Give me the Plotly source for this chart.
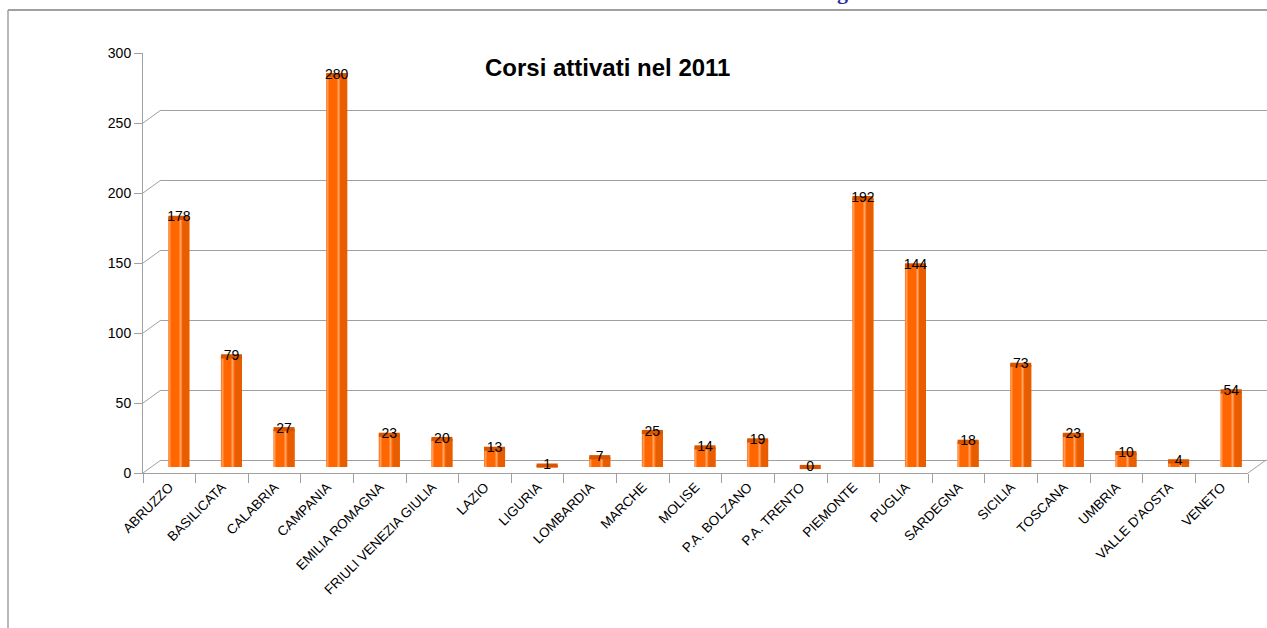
import plotly.graph_objects as go

regioni = ["ABRUZZO", "BASILICATA", "CALABRIA", "CAMPANIA", "EMILIA ROMAGNA",
           "FRIULI VENEZIA GIULIA", "LAZIO", "LIGURIA", "LOMBARDIA", "MARCHE",
           "MOLISE", "P.A. BOLZANO", "P.A. TRENTO", "PIEMONTE", "PUGLIA",
           "SARDEGNA", "SICILIA", "TOSCANA", "UMBRIA", "VALLE D'AOSTA", "VENETO"]
corsi = [178, 79, 27, 280, 23, 20, 13, 1, 7, 25, 14, 19, 0, 192, 144, 18, 73, 23, 10, 4, 54]
y_ticks = [0, 50, 100, 150, 200, 250, 300]

W, H = 1267, 628
GRID = "#a0a0a0"
FONT = "Liberation Sans, Arial, sans-serif"
XRANGE = [-0.5, len(regioni) - 0.5]


def px(x):
    return x / W


def py(y):
    return 1 - y / H


fig = go.Figure()

# front axes (labels and ticks) and back wall (gridlines): invisible carrier traces
for xa, ya in (("x", "y"), ("x2", "y2")):
    fig.add_trace(go.Scatter(x=regioni, y=corsi, xaxis=xa, yaxis=ya, mode="markers",
                             marker=dict(opacity=0), hoverinfo="skip", showlegend=False))

# cylinders: base, shaded right side, highlights, top cap
bar_layers = [
    dict(offset=-0.20, width=0.40, color="#ff6600"),
    dict(offset=0.07, width=0.13, color="#e85d00"),
    dict(offset=-0.185, width=0.02, color="#ff9a55"),
    dict(offset=0.02, width=0.02, color="#ffa466"),
]
for lay in bar_layers:
    fig.add_trace(go.Bar(x=regioni, y=corsi, xaxis="x3", yaxis="y3",
                         offset=lay["offset"], width=lay["width"],
                         marker=dict(color=lay["color"], line=dict(width=0)),
                         showlegend=False, hoverinfo="skip"))
fig.add_trace(go.Bar(x=regioni, y=[3] * len(corsi), base=[v - 1.5 for v in corsi],
                     xaxis="x3", yaxis="y3", offset=-0.20, width=0.40,
                     marker=dict(color="#d95500", line=dict(width=0)),
                     showlegend=False, hoverinfo="skip"))

# value labels
fig.add_trace(go.Scatter(x=regioni, y=corsi, xaxis="x3", yaxis="y3", mode="text",
                         text=[str(v) for v in corsi], textposition="middle center",
                         textfont=dict(size=14, color="black", family=FONT),
                         cliponaxis=False, showlegend=False, hoverinfo="skip"))

shapes = []
# diagonal connectors front axis -> back wall
for t in y_ticks:
    shapes.append(dict(type="line", xref="paper", xsizemode="pixel", xanchor=px(143),
                       x0=0, x1=18, yref="y", ysizemode="pixel", yanchor=t, y0=0, y1=13,
                       line=dict(color=GRID, width=1)))
# floor right edge
shapes.append(dict(type="line", xref="paper", xsizemode="pixel", xanchor=px(1248),
                   x0=0, x1=18, yref="y", ysizemode="pixel", yanchor=0, y0=0, y1=13,
                   line=dict(color=GRID, width=1)))
# frame of the slide
shapes.append(dict(type="line", xref="paper", yref="paper", x0=px(8), x1=1,
                   y0=py(10), y1=py(10), line=dict(color="#a0a0a0", width=2)))
shapes.append(dict(type="line", xref="paper", yref="paper", x0=px(8), x1=px(8),
                   y0=py(10), y1=0, line=dict(color="#a0a0a0", width=1.5)))

fig.update_layout(
    width=W, height=H,
    margin=dict(l=0, r=0, t=0, b=0, autoexpand=False),
    paper_bgcolor="white", plot_bgcolor="rgba(0,0,0,0)",
    barmode="overlay",
    font=dict(family=FONT, color="black"),
    shapes=shapes,
    xaxis=dict(domain=[px(143), px(1248)], anchor="y", type="category",
               categoryarray=regioni, categoryorder="array", range=XRANGE,
               tickmode="array", tickvals=regioni, automargin=False,
               showline=True, linecolor=GRID, linewidth=1,
               ticks="outside", tickson="boundaries", ticklen=9, tickcolor=GRID,
               tickangle=-45, tickfont=dict(size=13.5), showgrid=False, fixedrange=True),
    yaxis=dict(domain=[py(473), py(53)], anchor="x", range=[0, 300], tickvals=y_ticks,
               automargin=False,
               showline=True, linecolor=GRID, linewidth=1, ticks="outside", ticklen=8,
               tickcolor=GRID, tickfont=dict(size=14), showgrid=False, zeroline=False),
    xaxis2=dict(domain=[px(161), 1], anchor="y2", type="category", range=XRANGE,
                categoryarray=regioni, visible=False),
    yaxis2=dict(domain=[py(460), py(40)], anchor="x2", range=[0, 300], tickvals=y_ticks,
                showticklabels=False, ticks="", showgrid=True, gridcolor=GRID, gridwidth=1,
                zeroline=True, zerolinecolor=GRID, zerolinewidth=1, showline=False),
    xaxis3=dict(domain=[px(152.5), px(1257.5)], anchor="y3", type="category", range=XRANGE,
                categoryarray=regioni, visible=False),
    yaxis3=dict(domain=[py(474), py(47)], anchor="x3", range=[-5, 300], visible=False),
    annotations=[
        dict(text="<b>Corsi attivati nel 2011</b>", xref="paper", yref="paper",
             x=px(607), y=py(68), xanchor="center", yanchor="middle", showarrow=False,
             font=dict(size=24, color="black", family=FONT)),
        dict(text="<b>g</b>", xref="paper", yref="paper", x=px(843), y=py(6),
             xanchor="center", yanchor="bottom", showarrow=False,
             font=dict(size=22, color="#2a2aa8", family="Liberation Serif, serif")),
    ],
)

fig.write_html("out.html", config={"displayModeBar": False},
               post_script="document.body.style.margin='0';document.body.style.overflow='hidden';")
